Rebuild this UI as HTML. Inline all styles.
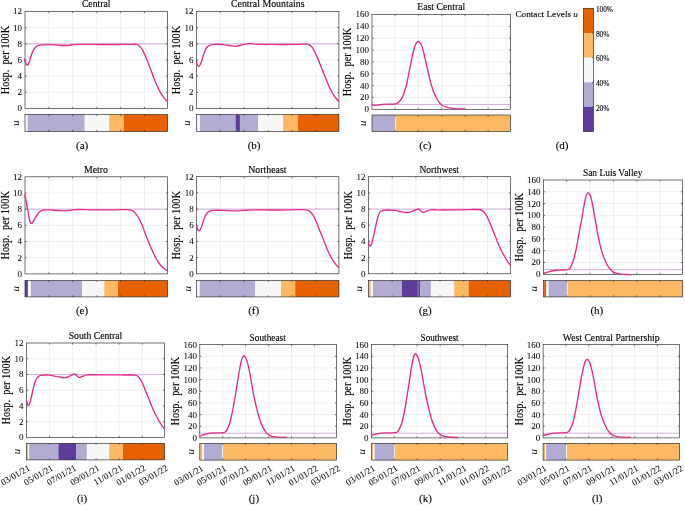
<!DOCTYPE html><html><head><meta charset="utf-8"><style>html,body{margin:0;padding:0;background:#fff;}svg{display:block;will-change:transform;}text{stroke:#000;stroke-width:0.12;fill:#000;}.tk text{stroke-width:0.05;}</style></head><body>
<svg width="685" height="505" viewBox="0 0 685 505" font-family='"Liberation Serif", serif'>
<rect width="685" height="505" fill="#fff"/>
<g stroke="#e6e6e6" stroke-width="0.6" fill="none">
<line x1="48.82" y1="11.5" x2="48.82" y2="108.5"/>
<line x1="72.63" y1="11.5" x2="72.63" y2="108.5"/>
<line x1="96.84" y1="11.5" x2="96.84" y2="108.5"/>
<line x1="120.65" y1="11.5" x2="120.65" y2="108.5"/>
<line x1="144.47" y1="11.5" x2="144.47" y2="108.5"/>
<line x1="25" y1="92.33" x2="167.5" y2="92.33"/>
<line x1="25" y1="76.17" x2="167.5" y2="76.17"/>
<line x1="25" y1="60" x2="167.5" y2="60"/>
<line x1="25" y1="43.83" x2="167.5" y2="43.83"/>
<line x1="25" y1="27.67" x2="167.5" y2="27.67"/>
</g>
<line x1="25" y1="43.83" x2="167.5" y2="43.83" stroke="#d3b0d9" stroke-width="1.0"/>
<g stroke="#262626" stroke-width="0.6">
<line x1="48.82" y1="108.5" x2="48.82" y2="106.9"/>
<line x1="48.82" y1="11.5" x2="48.82" y2="13.1"/>
<line x1="72.63" y1="108.5" x2="72.63" y2="106.9"/>
<line x1="72.63" y1="11.5" x2="72.63" y2="13.1"/>
<line x1="96.84" y1="108.5" x2="96.84" y2="106.9"/>
<line x1="96.84" y1="11.5" x2="96.84" y2="13.1"/>
<line x1="120.65" y1="108.5" x2="120.65" y2="106.9"/>
<line x1="120.65" y1="11.5" x2="120.65" y2="13.1"/>
<line x1="144.47" y1="108.5" x2="144.47" y2="106.9"/>
<line x1="144.47" y1="11.5" x2="144.47" y2="13.1"/>
<line x1="25" y1="92.33" x2="26.6" y2="92.33"/>
<line x1="167.5" y1="92.33" x2="165.9" y2="92.33"/>
<line x1="25" y1="76.17" x2="26.6" y2="76.17"/>
<line x1="167.5" y1="76.17" x2="165.9" y2="76.17"/>
<line x1="25" y1="60" x2="26.6" y2="60"/>
<line x1="167.5" y1="60" x2="165.9" y2="60"/>
<line x1="25" y1="43.83" x2="26.6" y2="43.83"/>
<line x1="167.5" y1="43.83" x2="165.9" y2="43.83"/>
<line x1="25" y1="27.67" x2="26.6" y2="27.67"/>
<line x1="167.5" y1="27.67" x2="165.9" y2="27.67"/>
</g>
<rect x="25" y="11.5" width="142.5" height="97" fill="none" stroke="#262626" stroke-width="0.65"/>
<path d="M24.6 59.5 C24.73 60 25.12 61.68 25.4 62.5 C25.68 63.32 25.97 63.98 26.3 64.4 C26.63 64.82 26.98 65.15 27.4 65 C27.82 64.85 28.28 64.7 28.8 63.5 C29.32 62.3 29.85 59.78 30.5 57.8 C31.15 55.82 31.9 53.35 32.7 51.6 C33.5 49.85 34.35 48.35 35.3 47.3 C36.25 46.25 37.15 45.72 38.4 45.3 C39.65 44.88 41.05 44.92 42.8 44.8 C44.55 44.68 46.57 44.55 48.9 44.6 C51.23 44.65 54.32 44.95 56.8 45.1 C59.28 45.25 61.77 45.47 63.8 45.5 C65.83 45.53 67.4 45.45 69 45.3 C70.6 45.15 71.57 44.75 73.4 44.6 C75.23 44.45 76.4 44.42 80 44.4 C83.6 44.38 90 44.43 95 44.45 C100 44.47 105 44.5 110 44.5 C115 44.5 121.5 44.48 125 44.45 C128.5 44.42 129.5 44.38 131 44.3 C132.5 44.22 132.97 43.92 134 43.95 C135.03 43.98 136.13 43.98 137.2 44.5 C138.27 45.02 139.43 46.03 140.4 47.1 C141.37 48.17 142.13 49.3 143 50.9 C143.87 52.5 144.73 54.65 145.6 56.7 C146.47 58.75 147.35 61.05 148.2 63.2 C149.05 65.35 149.85 67.35 150.7 69.6 C151.55 71.85 152.43 74.45 153.3 76.7 C154.17 78.95 155.03 81.07 155.9 83.1 C156.77 85.13 157.65 87.18 158.5 88.9 C159.35 90.62 160.15 92 161 93.4 C161.85 94.8 162.6 96.02 163.6 97.3 C164.6 98.58 166.43 100.47 167 101.1" fill="none" stroke="#e7298a" stroke-width="1.35" stroke-linejoin="round" stroke-linecap="round"/>
<g class="tk" font-size="9.0" text-anchor="end" fill="#111">
<text x="22.1" y="111.45">0</text>
<text x="22.1" y="95.28">2</text>
<text x="22.1" y="79.12">4</text>
<text x="22.1" y="62.95">6</text>
<text x="22.1" y="46.78">8</text>
<text x="22.1" y="30.62">10</text>
<text x="22.1" y="14.45">12</text>
</g>
<text transform="translate(8.6 60) rotate(-90)" font-size="11.5" text-anchor="middle" fill="#111" textLength="68.5" lengthAdjust="spacingAndGlyphs">Hosp.&#160;&#160;per&#160;100K</text>
<text x="96.2" y="6.9" font-size="9.3" text-anchor="middle" fill="#111" textLength="28.6" lengthAdjust="spacingAndGlyphs">Central</text>
<rect x="25" y="114.5" width="2.75" height="17" fill="#f7f7f7"/>
<rect x="27.7" y="114.5" width="57.05" height="17" fill="#b2abd2"/>
<rect x="84.7" y="114.5" width="24.55" height="17" fill="#f7f7f7"/>
<rect x="109.2" y="114.5" width="14.75" height="17" fill="#fdb863"/>
<rect x="123.9" y="114.5" width="43.65" height="17" fill="#e66101"/>
<g stroke="#262626" stroke-width="0.6">
<line x1="48.82" y1="131.5" x2="48.82" y2="129.9"/>
<line x1="48.82" y1="114.5" x2="48.82" y2="116.1"/>
<line x1="72.63" y1="131.5" x2="72.63" y2="129.9"/>
<line x1="72.63" y1="114.5" x2="72.63" y2="116.1"/>
<line x1="96.84" y1="131.5" x2="96.84" y2="129.9"/>
<line x1="96.84" y1="114.5" x2="96.84" y2="116.1"/>
<line x1="120.65" y1="131.5" x2="120.65" y2="129.9"/>
<line x1="120.65" y1="114.5" x2="120.65" y2="116.1"/>
<line x1="144.47" y1="131.5" x2="144.47" y2="129.9"/>
<line x1="144.47" y1="114.5" x2="144.47" y2="116.1"/>
</g>
<rect x="25" y="114.5" width="142.5" height="17" fill="none" stroke="#262626" stroke-width="0.65"/>
<text transform="translate(18.9 123) rotate(-90)" font-size="11" font-style="italic" text-anchor="middle" fill="#111" style="stroke-width:0">u</text>
<text x="82.15" y="148.9" font-size="11" text-anchor="middle" fill="#111">(a)</text>
<g stroke="#e6e6e6" stroke-width="0.6" fill="none">
<line x1="220.3" y1="11.5" x2="220.3" y2="108.5"/>
<line x1="244.1" y1="11.5" x2="244.1" y2="108.5"/>
<line x1="268.29" y1="11.5" x2="268.29" y2="108.5"/>
<line x1="292.08" y1="11.5" x2="292.08" y2="108.5"/>
<line x1="315.88" y1="11.5" x2="315.88" y2="108.5"/>
<line x1="196.5" y1="92.33" x2="338.9" y2="92.33"/>
<line x1="196.5" y1="76.17" x2="338.9" y2="76.17"/>
<line x1="196.5" y1="60" x2="338.9" y2="60"/>
<line x1="196.5" y1="43.83" x2="338.9" y2="43.83"/>
<line x1="196.5" y1="27.67" x2="338.9" y2="27.67"/>
</g>
<line x1="196.5" y1="43.83" x2="338.9" y2="43.83" stroke="#d3b0d9" stroke-width="1.0"/>
<g stroke="#262626" stroke-width="0.6">
<line x1="220.3" y1="108.5" x2="220.3" y2="106.9"/>
<line x1="220.3" y1="11.5" x2="220.3" y2="13.1"/>
<line x1="244.1" y1="108.5" x2="244.1" y2="106.9"/>
<line x1="244.1" y1="11.5" x2="244.1" y2="13.1"/>
<line x1="268.29" y1="108.5" x2="268.29" y2="106.9"/>
<line x1="268.29" y1="11.5" x2="268.29" y2="13.1"/>
<line x1="292.08" y1="108.5" x2="292.08" y2="106.9"/>
<line x1="292.08" y1="11.5" x2="292.08" y2="13.1"/>
<line x1="315.88" y1="108.5" x2="315.88" y2="106.9"/>
<line x1="315.88" y1="11.5" x2="315.88" y2="13.1"/>
<line x1="196.5" y1="92.33" x2="198.1" y2="92.33"/>
<line x1="338.9" y1="92.33" x2="337.3" y2="92.33"/>
<line x1="196.5" y1="76.17" x2="198.1" y2="76.17"/>
<line x1="338.9" y1="76.17" x2="337.3" y2="76.17"/>
<line x1="196.5" y1="60" x2="198.1" y2="60"/>
<line x1="338.9" y1="60" x2="337.3" y2="60"/>
<line x1="196.5" y1="43.83" x2="198.1" y2="43.83"/>
<line x1="338.9" y1="43.83" x2="337.3" y2="43.83"/>
<line x1="196.5" y1="27.67" x2="198.1" y2="27.67"/>
<line x1="338.9" y1="27.67" x2="337.3" y2="27.67"/>
</g>
<rect x="196.5" y="11.5" width="142.4" height="97" fill="none" stroke="#262626" stroke-width="0.65"/>
<path d="M196.6 62.4 C196.77 62.83 197.23 64.32 197.6 65 C197.97 65.68 198.27 66.73 198.8 66.5 C199.33 66.27 200.08 65.35 200.8 63.6 C201.52 61.85 202.23 58.53 203.1 56 C203.97 53.47 204.93 50.18 206 48.4 C207.07 46.62 207.93 45.98 209.5 45.3 C211.07 44.62 213.25 44.42 215.4 44.3 C217.55 44.18 220.07 44.4 222.4 44.6 C224.73 44.8 227.17 45.22 229.4 45.5 C231.63 45.78 233.67 46.4 235.8 46.3 C237.93 46.2 239.97 45.35 242.2 44.9 C244.43 44.45 246.87 43.7 249.2 43.6 C251.53 43.5 253.67 44.16 256.2 44.3 C258.73 44.44 261.77 44.43 264.4 44.45 C267.03 44.47 268.57 44.4 272 44.4 C275.43 44.4 280.33 44.46 285 44.45 C289.67 44.44 296.5 44.41 300 44.35 C303.5 44.29 304.47 44.01 306 44.1 C307.53 44.19 308.13 44.3 309.2 44.9 C310.27 45.5 311.43 46.48 312.4 47.7 C313.37 48.92 314.13 50.48 315 52.2 C315.87 53.92 316.73 55.95 317.6 58 C318.47 60.05 319.35 62.35 320.2 64.5 C321.05 66.65 321.85 68.77 322.7 70.9 C323.55 73.03 324.43 75.15 325.3 77.3 C326.17 79.45 327.03 81.77 327.9 83.8 C328.77 85.83 329.65 87.78 330.5 89.5 C331.35 91.22 332.15 92.73 333 94.1 C333.85 95.47 334.65 96.53 335.6 97.7 C336.55 98.87 338.18 100.53 338.7 101.1" fill="none" stroke="#e7298a" stroke-width="1.35" stroke-linejoin="round" stroke-linecap="round"/>
<g class="tk" font-size="9.0" text-anchor="end" fill="#111">
<text x="193.6" y="111.45">0</text>
<text x="193.6" y="95.28">2</text>
<text x="193.6" y="79.12">4</text>
<text x="193.6" y="62.95">6</text>
<text x="193.6" y="46.78">8</text>
<text x="193.6" y="30.62">10</text>
<text x="193.6" y="14.45">12</text>
</g>
<text transform="translate(180.1 60) rotate(-90)" font-size="11.5" text-anchor="middle" fill="#111" textLength="68.5" lengthAdjust="spacingAndGlyphs">Hosp.&#160;&#160;per&#160;100K</text>
<text x="267.75" y="6.8" font-size="9.3" text-anchor="middle" fill="#111" textLength="73.5" lengthAdjust="spacingAndGlyphs">Central Mountains</text>
<rect x="196.5" y="114.5" width="3.55" height="17" fill="#f7f7f7"/>
<rect x="200" y="114.5" width="35.65" height="17" fill="#b2abd2"/>
<rect x="235.6" y="114.5" width="4.35" height="17" fill="#5e3c99"/>
<rect x="239.9" y="114.5" width="18.25" height="17" fill="#b2abd2"/>
<rect x="258.1" y="114.5" width="25.05" height="17" fill="#f7f7f7"/>
<rect x="283.1" y="114.5" width="14.75" height="17" fill="#fdb863"/>
<rect x="297.8" y="114.5" width="41.15" height="17" fill="#e66101"/>
<g stroke="#262626" stroke-width="0.6">
<line x1="220.3" y1="131.5" x2="220.3" y2="129.9"/>
<line x1="220.3" y1="114.5" x2="220.3" y2="116.1"/>
<line x1="244.1" y1="131.5" x2="244.1" y2="129.9"/>
<line x1="244.1" y1="114.5" x2="244.1" y2="116.1"/>
<line x1="268.29" y1="131.5" x2="268.29" y2="129.9"/>
<line x1="268.29" y1="114.5" x2="268.29" y2="116.1"/>
<line x1="292.08" y1="131.5" x2="292.08" y2="129.9"/>
<line x1="292.08" y1="114.5" x2="292.08" y2="116.1"/>
<line x1="315.88" y1="131.5" x2="315.88" y2="129.9"/>
<line x1="315.88" y1="114.5" x2="315.88" y2="116.1"/>
</g>
<rect x="196.5" y="114.5" width="142.4" height="17" fill="none" stroke="#262626" stroke-width="0.65"/>
<text transform="translate(190.4 123) rotate(-90)" font-size="11" font-style="italic" text-anchor="middle" fill="#111" style="stroke-width:0">u</text>
<text x="254.05" y="148.9" font-size="11" text-anchor="middle" fill="#111">(b)</text>
<g stroke="#e6e6e6" stroke-width="0.6" fill="none">
<line x1="395.15" y1="14.5" x2="395.15" y2="109.3"/>
<line x1="418.29" y1="14.5" x2="418.29" y2="109.3"/>
<line x1="441.82" y1="14.5" x2="441.82" y2="109.3"/>
<line x1="464.97" y1="14.5" x2="464.97" y2="109.3"/>
<line x1="488.11" y1="14.5" x2="488.11" y2="109.3"/>
<line x1="372" y1="97.45" x2="510.5" y2="97.45"/>
<line x1="372" y1="85.6" x2="510.5" y2="85.6"/>
<line x1="372" y1="73.75" x2="510.5" y2="73.75"/>
<line x1="372" y1="61.9" x2="510.5" y2="61.9"/>
<line x1="372" y1="50.05" x2="510.5" y2="50.05"/>
<line x1="372" y1="38.2" x2="510.5" y2="38.2"/>
<line x1="372" y1="26.35" x2="510.5" y2="26.35"/>
</g>
<line x1="372" y1="104.56" x2="510.5" y2="104.56" stroke="#d3b0d9" stroke-width="1.0"/>
<g stroke="#262626" stroke-width="0.6">
<line x1="395.15" y1="109.3" x2="395.15" y2="107.7"/>
<line x1="395.15" y1="14.5" x2="395.15" y2="16.1"/>
<line x1="418.29" y1="109.3" x2="418.29" y2="107.7"/>
<line x1="418.29" y1="14.5" x2="418.29" y2="16.1"/>
<line x1="441.82" y1="109.3" x2="441.82" y2="107.7"/>
<line x1="441.82" y1="14.5" x2="441.82" y2="16.1"/>
<line x1="464.97" y1="109.3" x2="464.97" y2="107.7"/>
<line x1="464.97" y1="14.5" x2="464.97" y2="16.1"/>
<line x1="488.11" y1="109.3" x2="488.11" y2="107.7"/>
<line x1="488.11" y1="14.5" x2="488.11" y2="16.1"/>
<line x1="372" y1="97.45" x2="373.6" y2="97.45"/>
<line x1="510.5" y1="97.45" x2="508.9" y2="97.45"/>
<line x1="372" y1="85.6" x2="373.6" y2="85.6"/>
<line x1="510.5" y1="85.6" x2="508.9" y2="85.6"/>
<line x1="372" y1="73.75" x2="373.6" y2="73.75"/>
<line x1="510.5" y1="73.75" x2="508.9" y2="73.75"/>
<line x1="372" y1="61.9" x2="373.6" y2="61.9"/>
<line x1="510.5" y1="61.9" x2="508.9" y2="61.9"/>
<line x1="372" y1="50.05" x2="373.6" y2="50.05"/>
<line x1="510.5" y1="50.05" x2="508.9" y2="50.05"/>
<line x1="372" y1="38.2" x2="373.6" y2="38.2"/>
<line x1="510.5" y1="38.2" x2="508.9" y2="38.2"/>
<line x1="372" y1="26.35" x2="373.6" y2="26.35"/>
<line x1="510.5" y1="26.35" x2="508.9" y2="26.35"/>
</g>
<rect x="372" y="14.5" width="138.5" height="94.8" fill="none" stroke="#262626" stroke-width="0.65"/>
<path d="M372.1 104.6 C372.42 104.72 373.02 105.23 374 105.3 C374.98 105.37 376.68 105.15 378 105 C379.32 104.85 379.9 104.55 381.9 104.4 C383.9 104.25 387.73 104.18 390 104.1 C392.27 104.02 394.08 104.2 395.5 103.9 C396.92 103.6 397.47 103.18 398.5 102.3 C399.53 101.42 400.75 100.23 401.7 98.6 C402.65 96.97 403.38 94.85 404.2 92.5 C405.02 90.15 405.78 87.92 406.6 84.5 C407.42 81.08 408.27 76.17 409.1 72 C409.93 67.83 410.85 63.08 411.6 59.5 C412.35 55.92 412.95 52.98 413.6 50.5 C414.25 48.02 414.95 46 415.5 44.6 C416.05 43.2 416.47 42.62 416.9 42.1 C417.33 41.58 417.67 41.47 418.1 41.5 C418.53 41.53 418.93 41.68 419.5 42.3 C420.07 42.92 420.77 43.33 421.5 45.2 C422.23 47.07 423.08 50.28 423.9 53.5 C424.72 56.72 425.57 60.83 426.4 64.5 C427.23 68.17 428.07 72.05 428.9 75.5 C429.73 78.95 430.5 82.2 431.4 85.2 C432.3 88.2 433.32 91.12 434.3 93.5 C435.28 95.88 436.3 97.82 437.3 99.5 C438.3 101.18 439.3 102.52 440.3 103.6 C441.3 104.68 442.02 105.33 443.3 106 C444.58 106.67 446.35 107.2 448 107.6 C449.65 108 451.53 108.2 453.2 108.4 C454.87 108.6 456.2 108.7 458 108.8 C459.8 108.9 463 108.97 464 109" fill="none" stroke="#e7298a" stroke-width="1.35" stroke-linejoin="round" stroke-linecap="round"/>
<g class="tk" font-size="9.0" text-anchor="end" fill="#111">
<text x="369.1" y="112.25">0</text>
<text x="369.1" y="100.4">20</text>
<text x="369.1" y="88.55">40</text>
<text x="369.1" y="76.7">60</text>
<text x="369.1" y="64.85">80</text>
<text x="369.1" y="53">100</text>
<text x="369.1" y="41.15">120</text>
<text x="369.1" y="29.3">140</text>
<text x="369.1" y="17.45">160</text>
</g>
<text transform="translate(351.4 61.9) rotate(-90)" font-size="11.5" text-anchor="middle" fill="#111" textLength="68.5" lengthAdjust="spacingAndGlyphs">Hosp.&#160;&#160;per&#160;100K</text>
<text x="441.25" y="9.6" font-size="9.3" text-anchor="middle" fill="#111" textLength="48.1" lengthAdjust="spacingAndGlyphs">East Central</text>
<rect x="372" y="115" width="23.15" height="16.5" fill="#b2abd2"/>
<rect x="395.1" y="115" width="0.75" height="16.5" fill="#f7f7f7"/>
<rect x="395.8" y="115" width="114.75" height="16.5" fill="#fdb863"/>
<g stroke="#262626" stroke-width="0.6">
<line x1="395.15" y1="131.5" x2="395.15" y2="129.9"/>
<line x1="395.15" y1="115" x2="395.15" y2="116.6"/>
<line x1="418.29" y1="131.5" x2="418.29" y2="129.9"/>
<line x1="418.29" y1="115" x2="418.29" y2="116.6"/>
<line x1="441.82" y1="131.5" x2="441.82" y2="129.9"/>
<line x1="441.82" y1="115" x2="441.82" y2="116.6"/>
<line x1="464.97" y1="131.5" x2="464.97" y2="129.9"/>
<line x1="464.97" y1="115" x2="464.97" y2="116.6"/>
<line x1="488.11" y1="131.5" x2="488.11" y2="129.9"/>
<line x1="488.11" y1="115" x2="488.11" y2="116.6"/>
</g>
<rect x="372" y="115" width="138.5" height="16.5" fill="none" stroke="#262626" stroke-width="0.65"/>
<text transform="translate(365.9 123.25) rotate(-90)" font-size="11" font-style="italic" text-anchor="middle" fill="#111" style="stroke-width:0">u</text>
<text x="425.45" y="148.9" font-size="11" text-anchor="middle" fill="#111">(c)</text>
<g stroke="#e6e6e6" stroke-width="0.6" fill="none">
<line x1="48.82" y1="176.8" x2="48.82" y2="273.9"/>
<line x1="72.63" y1="176.8" x2="72.63" y2="273.9"/>
<line x1="96.84" y1="176.8" x2="96.84" y2="273.9"/>
<line x1="120.65" y1="176.8" x2="120.65" y2="273.9"/>
<line x1="144.47" y1="176.8" x2="144.47" y2="273.9"/>
<line x1="25" y1="257.72" x2="167.5" y2="257.72"/>
<line x1="25" y1="241.53" x2="167.5" y2="241.53"/>
<line x1="25" y1="225.35" x2="167.5" y2="225.35"/>
<line x1="25" y1="209.17" x2="167.5" y2="209.17"/>
<line x1="25" y1="192.98" x2="167.5" y2="192.98"/>
</g>
<line x1="25" y1="209.17" x2="167.5" y2="209.17" stroke="#d3b0d9" stroke-width="1.0"/>
<g stroke="#262626" stroke-width="0.6">
<line x1="48.82" y1="273.9" x2="48.82" y2="272.3"/>
<line x1="48.82" y1="176.8" x2="48.82" y2="178.4"/>
<line x1="72.63" y1="273.9" x2="72.63" y2="272.3"/>
<line x1="72.63" y1="176.8" x2="72.63" y2="178.4"/>
<line x1="96.84" y1="273.9" x2="96.84" y2="272.3"/>
<line x1="96.84" y1="176.8" x2="96.84" y2="178.4"/>
<line x1="120.65" y1="273.9" x2="120.65" y2="272.3"/>
<line x1="120.65" y1="176.8" x2="120.65" y2="178.4"/>
<line x1="144.47" y1="273.9" x2="144.47" y2="272.3"/>
<line x1="144.47" y1="176.8" x2="144.47" y2="178.4"/>
<line x1="25" y1="257.72" x2="26.6" y2="257.72"/>
<line x1="167.5" y1="257.72" x2="165.9" y2="257.72"/>
<line x1="25" y1="241.53" x2="26.6" y2="241.53"/>
<line x1="167.5" y1="241.53" x2="165.9" y2="241.53"/>
<line x1="25" y1="225.35" x2="26.6" y2="225.35"/>
<line x1="167.5" y1="225.35" x2="165.9" y2="225.35"/>
<line x1="25" y1="209.17" x2="26.6" y2="209.17"/>
<line x1="167.5" y1="209.17" x2="165.9" y2="209.17"/>
<line x1="25" y1="192.98" x2="26.6" y2="192.98"/>
<line x1="167.5" y1="192.98" x2="165.9" y2="192.98"/>
</g>
<rect x="25" y="176.8" width="142.5" height="97.1" fill="none" stroke="#262626" stroke-width="0.65"/>
<path d="M24.8 195 C25.07 196.25 25.83 199.5 26.4 202.5 C26.97 205.5 27.62 209.88 28.2 213 C28.78 216.12 29.37 219.48 29.9 221.2 C30.43 222.92 30.82 223.3 31.4 223.3 C31.98 223.3 32.57 222.42 33.4 221.2 C34.23 219.98 35.32 217.6 36.4 216 C37.48 214.4 38.73 212.58 39.9 211.6 C41.07 210.62 41.65 210.38 43.4 210.1 C45.15 209.82 48.07 209.83 50.4 209.9 C52.73 209.97 55.07 210.33 57.4 210.5 C59.73 210.67 62.07 210.97 64.4 210.9 C66.73 210.83 69.07 210.33 71.4 210.1 C73.73 209.87 75.28 209.55 78.4 209.5 C81.52 209.45 86.5 209.73 90.1 209.8 C93.7 209.87 95.85 209.9 100 209.9 C104.15 209.9 110.33 209.85 115 209.8 C119.67 209.75 125.25 209.52 128 209.6 C130.75 209.68 130.35 209.8 131.5 210.3 C132.65 210.8 133.75 211.4 134.9 212.6 C136.05 213.8 137.23 215.53 138.4 217.5 C139.57 219.47 140.87 221.98 141.9 224.4 C142.93 226.82 143.68 229.57 144.6 232 C145.52 234.43 146.47 236.68 147.4 239 C148.33 241.32 149.27 243.72 150.2 245.9 C151.13 248.08 152.08 250.13 153 252.1 C153.92 254.07 154.78 255.97 155.7 257.7 C156.62 259.43 157.45 261 158.5 262.5 C159.55 264 160.85 265.53 162 266.7 C163.15 267.87 164.52 268.88 165.4 269.5 C166.28 270.12 166.98 270.25 167.3 270.4" fill="none" stroke="#e7298a" stroke-width="1.35" stroke-linejoin="round" stroke-linecap="round"/>
<g class="tk" font-size="9.0" text-anchor="end" fill="#111">
<text x="22.1" y="276.85">0</text>
<text x="22.1" y="260.67">2</text>
<text x="22.1" y="244.48">4</text>
<text x="22.1" y="228.3">6</text>
<text x="22.1" y="212.12">8</text>
<text x="22.1" y="195.93">10</text>
<text x="22.1" y="179.75">12</text>
</g>
<text transform="translate(8.6 225.35) rotate(-90)" font-size="11.5" text-anchor="middle" fill="#111" textLength="68.5" lengthAdjust="spacingAndGlyphs">Hosp.&#160;&#160;per&#160;100K</text>
<text x="96.05" y="172.5" font-size="9.3" text-anchor="middle" fill="#111" textLength="23.9" lengthAdjust="spacingAndGlyphs">Metro</text>
<rect x="25" y="280.5" width="2.95" height="16.4" fill="#5e3c99"/>
<rect x="27.9" y="280.5" width="3.05" height="16.4" fill="#f7f7f7"/>
<rect x="30.9" y="280.5" width="51.15" height="16.4" fill="#b2abd2"/>
<rect x="82" y="280.5" width="22.35" height="16.4" fill="#f7f7f7"/>
<rect x="104.3" y="280.5" width="13.75" height="16.4" fill="#fdb863"/>
<rect x="118" y="280.5" width="49.55" height="16.4" fill="#e66101"/>
<g stroke="#262626" stroke-width="0.6">
<line x1="48.82" y1="296.9" x2="48.82" y2="295.3"/>
<line x1="48.82" y1="280.5" x2="48.82" y2="282.1"/>
<line x1="72.63" y1="296.9" x2="72.63" y2="295.3"/>
<line x1="72.63" y1="280.5" x2="72.63" y2="282.1"/>
<line x1="96.84" y1="296.9" x2="96.84" y2="295.3"/>
<line x1="96.84" y1="280.5" x2="96.84" y2="282.1"/>
<line x1="120.65" y1="296.9" x2="120.65" y2="295.3"/>
<line x1="120.65" y1="280.5" x2="120.65" y2="282.1"/>
<line x1="144.47" y1="296.9" x2="144.47" y2="295.3"/>
<line x1="144.47" y1="280.5" x2="144.47" y2="282.1"/>
</g>
<rect x="25" y="280.5" width="142.5" height="16.4" fill="none" stroke="#262626" stroke-width="0.65"/>
<text transform="translate(18.9 288.7) rotate(-90)" font-size="11" font-style="italic" text-anchor="middle" fill="#111" style="stroke-width:0">u</text>
<text x="82.05" y="314.3" font-size="11" text-anchor="middle" fill="#111">(e)</text>
<g stroke="#e6e6e6" stroke-width="0.6" fill="none">
<line x1="220.38" y1="176.7" x2="220.38" y2="273.8"/>
<line x1="244.16" y1="176.7" x2="244.16" y2="273.8"/>
<line x1="268.33" y1="176.7" x2="268.33" y2="273.8"/>
<line x1="292.12" y1="176.7" x2="292.12" y2="273.8"/>
<line x1="315.9" y1="176.7" x2="315.9" y2="273.8"/>
<line x1="196.6" y1="257.62" x2="338.9" y2="257.62"/>
<line x1="196.6" y1="241.43" x2="338.9" y2="241.43"/>
<line x1="196.6" y1="225.25" x2="338.9" y2="225.25"/>
<line x1="196.6" y1="209.07" x2="338.9" y2="209.07"/>
<line x1="196.6" y1="192.88" x2="338.9" y2="192.88"/>
</g>
<line x1="196.6" y1="209.07" x2="338.9" y2="209.07" stroke="#d3b0d9" stroke-width="1.0"/>
<g stroke="#262626" stroke-width="0.6">
<line x1="220.38" y1="273.8" x2="220.38" y2="272.2"/>
<line x1="220.38" y1="176.7" x2="220.38" y2="178.3"/>
<line x1="244.16" y1="273.8" x2="244.16" y2="272.2"/>
<line x1="244.16" y1="176.7" x2="244.16" y2="178.3"/>
<line x1="268.33" y1="273.8" x2="268.33" y2="272.2"/>
<line x1="268.33" y1="176.7" x2="268.33" y2="178.3"/>
<line x1="292.12" y1="273.8" x2="292.12" y2="272.2"/>
<line x1="292.12" y1="176.7" x2="292.12" y2="178.3"/>
<line x1="315.9" y1="273.8" x2="315.9" y2="272.2"/>
<line x1="315.9" y1="176.7" x2="315.9" y2="178.3"/>
<line x1="196.6" y1="257.62" x2="198.2" y2="257.62"/>
<line x1="338.9" y1="257.62" x2="337.3" y2="257.62"/>
<line x1="196.6" y1="241.43" x2="198.2" y2="241.43"/>
<line x1="338.9" y1="241.43" x2="337.3" y2="241.43"/>
<line x1="196.6" y1="225.25" x2="198.2" y2="225.25"/>
<line x1="338.9" y1="225.25" x2="337.3" y2="225.25"/>
<line x1="196.6" y1="209.07" x2="198.2" y2="209.07"/>
<line x1="338.9" y1="209.07" x2="337.3" y2="209.07"/>
<line x1="196.6" y1="192.88" x2="198.2" y2="192.88"/>
<line x1="338.9" y1="192.88" x2="337.3" y2="192.88"/>
</g>
<rect x="196.6" y="176.7" width="142.3" height="97.1" fill="none" stroke="#262626" stroke-width="0.65"/>
<path d="M196.6 225.9 C196.8 226.52 197.4 228.77 197.8 229.6 C198.2 230.43 198.5 231.07 199 230.9 C199.5 230.73 200.12 230.15 200.8 228.6 C201.48 227.05 202.23 223.93 203.1 221.6 C203.97 219.27 204.93 216.35 206 214.6 C207.07 212.85 208.13 211.82 209.5 211.1 C210.87 210.38 212.05 210.43 214.2 210.3 C216.35 210.17 218.9 210.2 222.4 210.3 C225.9 210.4 231.7 210.88 235.2 210.9 C238.7 210.92 240.48 210.57 243.4 210.4 C246.32 210.23 247.93 209.97 252.7 209.9 C257.47 209.83 265.78 210.02 272 210 C278.22 209.98 285.33 209.87 290 209.8 C294.67 209.73 297.18 209.58 300 209.6 C302.82 209.62 305.17 209.52 306.9 209.9 C308.63 210.28 309.35 210.98 310.4 211.9 C311.45 212.82 312.28 213.9 313.2 215.4 C314.12 216.9 314.98 218.82 315.9 220.9 C316.82 222.98 317.77 225.58 318.7 227.9 C319.63 230.22 320.57 232.5 321.5 234.8 C322.43 237.1 323.38 239.38 324.3 241.7 C325.22 244.02 326.08 246.5 327 248.7 C327.92 250.9 328.87 253.05 329.8 254.9 C330.73 256.75 331.68 258.3 332.6 259.8 C333.52 261.3 334.3 262.63 335.3 263.9 C336.3 265.17 338.05 266.82 338.6 267.4" fill="none" stroke="#e7298a" stroke-width="1.35" stroke-linejoin="round" stroke-linecap="round"/>
<g class="tk" font-size="9.0" text-anchor="end" fill="#111">
<text x="193.7" y="276.75">0</text>
<text x="193.7" y="260.57">2</text>
<text x="193.7" y="244.38">4</text>
<text x="193.7" y="228.2">6</text>
<text x="193.7" y="212.02">8</text>
<text x="193.7" y="195.83">10</text>
<text x="193.7" y="179.65">12</text>
</g>
<text transform="translate(180.2 225.25) rotate(-90)" font-size="11.5" text-anchor="middle" fill="#111" textLength="68.5" lengthAdjust="spacingAndGlyphs">Hosp.&#160;&#160;per&#160;100K</text>
<text x="267.4" y="172.5" font-size="9.3" text-anchor="middle" fill="#111" textLength="38.4" lengthAdjust="spacingAndGlyphs">Northeast</text>
<rect x="196.6" y="280.5" width="3.2" height="16.4" fill="#f7f7f7"/>
<rect x="199.75" y="280.5" width="55.4" height="16.4" fill="#b2abd2"/>
<rect x="255.1" y="280.5" width="25.95" height="16.4" fill="#f7f7f7"/>
<rect x="281" y="280.5" width="14.25" height="16.4" fill="#fdb863"/>
<rect x="295.2" y="280.5" width="43.75" height="16.4" fill="#e66101"/>
<g stroke="#262626" stroke-width="0.6">
<line x1="220.38" y1="296.9" x2="220.38" y2="295.3"/>
<line x1="220.38" y1="280.5" x2="220.38" y2="282.1"/>
<line x1="244.16" y1="296.9" x2="244.16" y2="295.3"/>
<line x1="244.16" y1="280.5" x2="244.16" y2="282.1"/>
<line x1="268.33" y1="296.9" x2="268.33" y2="295.3"/>
<line x1="268.33" y1="280.5" x2="268.33" y2="282.1"/>
<line x1="292.12" y1="296.9" x2="292.12" y2="295.3"/>
<line x1="292.12" y1="280.5" x2="292.12" y2="282.1"/>
<line x1="315.9" y1="296.9" x2="315.9" y2="295.3"/>
<line x1="315.9" y1="280.5" x2="315.9" y2="282.1"/>
</g>
<rect x="196.6" y="280.5" width="142.3" height="16.4" fill="none" stroke="#262626" stroke-width="0.65"/>
<text transform="translate(190.5 288.7) rotate(-90)" font-size="11" font-style="italic" text-anchor="middle" fill="#111" style="stroke-width:0">u</text>
<text x="253.7" y="314.3" font-size="11" text-anchor="middle" fill="#111">(f)</text>
<g stroke="#e6e6e6" stroke-width="0.6" fill="none">
<line x1="392.15" y1="176.7" x2="392.15" y2="273.8"/>
<line x1="415.9" y1="176.7" x2="415.9" y2="273.8"/>
<line x1="440.03" y1="176.7" x2="440.03" y2="273.8"/>
<line x1="463.78" y1="176.7" x2="463.78" y2="273.8"/>
<line x1="487.53" y1="176.7" x2="487.53" y2="273.8"/>
<line x1="368.4" y1="257.62" x2="510.5" y2="257.62"/>
<line x1="368.4" y1="241.43" x2="510.5" y2="241.43"/>
<line x1="368.4" y1="225.25" x2="510.5" y2="225.25"/>
<line x1="368.4" y1="209.07" x2="510.5" y2="209.07"/>
<line x1="368.4" y1="192.88" x2="510.5" y2="192.88"/>
</g>
<line x1="368.4" y1="209.07" x2="510.5" y2="209.07" stroke="#d3b0d9" stroke-width="1.0"/>
<g stroke="#262626" stroke-width="0.6">
<line x1="392.15" y1="273.8" x2="392.15" y2="272.2"/>
<line x1="392.15" y1="176.7" x2="392.15" y2="178.3"/>
<line x1="415.9" y1="273.8" x2="415.9" y2="272.2"/>
<line x1="415.9" y1="176.7" x2="415.9" y2="178.3"/>
<line x1="440.03" y1="273.8" x2="440.03" y2="272.2"/>
<line x1="440.03" y1="176.7" x2="440.03" y2="178.3"/>
<line x1="463.78" y1="273.8" x2="463.78" y2="272.2"/>
<line x1="463.78" y1="176.7" x2="463.78" y2="178.3"/>
<line x1="487.53" y1="273.8" x2="487.53" y2="272.2"/>
<line x1="487.53" y1="176.7" x2="487.53" y2="178.3"/>
<line x1="368.4" y1="257.62" x2="370" y2="257.62"/>
<line x1="510.5" y1="257.62" x2="508.9" y2="257.62"/>
<line x1="368.4" y1="241.43" x2="370" y2="241.43"/>
<line x1="510.5" y1="241.43" x2="508.9" y2="241.43"/>
<line x1="368.4" y1="225.25" x2="370" y2="225.25"/>
<line x1="510.5" y1="225.25" x2="508.9" y2="225.25"/>
<line x1="368.4" y1="209.07" x2="370" y2="209.07"/>
<line x1="510.5" y1="209.07" x2="508.9" y2="209.07"/>
<line x1="368.4" y1="192.88" x2="370" y2="192.88"/>
<line x1="510.5" y1="192.88" x2="508.9" y2="192.88"/>
</g>
<rect x="368.4" y="176.7" width="142.1" height="97.1" fill="none" stroke="#262626" stroke-width="0.65"/>
<path d="M368.4 242.8 C368.52 243.2 368.78 244.65 369.1 245.2 C369.42 245.75 369.92 246.2 370.3 246.1 C370.68 246 371 245.63 371.4 244.6 C371.8 243.57 372.23 241.78 372.7 239.9 C373.17 238.02 373.7 235.58 374.2 233.3 C374.7 231.02 375.17 228.68 375.7 226.2 C376.23 223.72 376.72 220.68 377.4 218.4 C378.08 216.12 378.92 213.83 379.8 212.5 C380.68 211.17 381.43 210.82 382.7 210.4 C383.97 209.98 385.27 210 387.4 210 C389.53 210 393.17 210.08 395.5 210.4 C397.83 210.72 399.45 211.55 401.4 211.9 C403.35 212.25 405.45 212.58 407.2 212.5 C408.95 212.42 410.43 211.88 411.9 211.4 C413.37 210.92 414.87 210 416 209.6 C417.13 209.2 417.93 208.8 418.7 209 C419.47 209.2 419.88 210.22 420.6 210.8 C421.32 211.38 422.12 212.4 423 212.5 C423.88 212.6 424.63 211.85 425.9 211.4 C427.17 210.95 428.85 210.07 430.6 209.8 C432.35 209.53 434.17 209.77 436.4 209.8 C438.63 209.83 440.07 210 444 210 C447.93 210 455.67 209.87 460 209.8 C464.33 209.73 467 209.65 470 209.6 C473 209.55 476.02 209.37 478 209.5 C479.98 209.63 480.72 209.75 481.9 210.4 C483.08 211.05 484.13 212.15 485.1 213.4 C486.07 214.65 486.85 216.18 487.7 217.9 C488.55 219.62 489.35 221.67 490.2 223.7 C491.05 225.73 491.93 227.97 492.8 230.1 C493.67 232.23 494.55 234.35 495.4 236.5 C496.25 238.65 497.05 240.95 497.9 243 C498.75 245.05 499.63 246.98 500.5 248.8 C501.37 250.62 502.23 252.3 503.1 253.9 C503.97 255.5 504.85 257 505.7 258.4 C506.55 259.8 507.43 261.22 508.2 262.3 C508.97 263.38 509.95 264.47 510.3 264.9" fill="none" stroke="#e7298a" stroke-width="1.35" stroke-linejoin="round" stroke-linecap="round"/>
<g class="tk" font-size="9.0" text-anchor="end" fill="#111">
<text x="365.5" y="276.75">0</text>
<text x="365.5" y="260.57">2</text>
<text x="365.5" y="244.38">4</text>
<text x="365.5" y="228.2">6</text>
<text x="365.5" y="212.02">8</text>
<text x="365.5" y="195.83">10</text>
<text x="365.5" y="179.65">12</text>
</g>
<text transform="translate(352 225.25) rotate(-90)" font-size="11.5" text-anchor="middle" fill="#111" textLength="68.5" lengthAdjust="spacingAndGlyphs">Hosp.&#160;&#160;per&#160;100K</text>
<text x="439.2" y="172.5" font-size="9.3" text-anchor="middle" fill="#111" textLength="39.6" lengthAdjust="spacingAndGlyphs">Northwest</text>
<rect x="368.4" y="280.5" width="2.45" height="16.4" fill="#fdb863"/>
<rect x="370.8" y="280.5" width="2.25" height="16.4" fill="#f7f7f7"/>
<rect x="373" y="280.5" width="28.85" height="16.4" fill="#b2abd2"/>
<rect x="401.8" y="280.5" width="15.35" height="16.4" fill="#5e3c99"/>
<rect x="417.1" y="280.5" width="1.55" height="16.4" fill="#6a4fa3"/>
<rect x="418.6" y="280.5" width="1.65" height="16.4" fill="#5e3c99"/>
<rect x="420.2" y="280.5" width="10.75" height="16.4" fill="#b2abd2"/>
<rect x="430.9" y="280.5" width="23.35" height="16.4" fill="#f7f7f7"/>
<rect x="454.2" y="280.5" width="14.45" height="16.4" fill="#fdb863"/>
<rect x="468.6" y="280.5" width="41.95" height="16.4" fill="#e66101"/>
<g stroke="#262626" stroke-width="0.6">
<line x1="392.15" y1="296.9" x2="392.15" y2="295.3"/>
<line x1="392.15" y1="280.5" x2="392.15" y2="282.1"/>
<line x1="415.9" y1="296.9" x2="415.9" y2="295.3"/>
<line x1="415.9" y1="280.5" x2="415.9" y2="282.1"/>
<line x1="440.03" y1="296.9" x2="440.03" y2="295.3"/>
<line x1="440.03" y1="280.5" x2="440.03" y2="282.1"/>
<line x1="463.78" y1="296.9" x2="463.78" y2="295.3"/>
<line x1="463.78" y1="280.5" x2="463.78" y2="282.1"/>
<line x1="487.53" y1="296.9" x2="487.53" y2="295.3"/>
<line x1="487.53" y1="280.5" x2="487.53" y2="282.1"/>
</g>
<rect x="368.4" y="280.5" width="142.1" height="16.4" fill="none" stroke="#262626" stroke-width="0.65"/>
<text transform="translate(362.3 288.7) rotate(-90)" font-size="11" font-style="italic" text-anchor="middle" fill="#111" style="stroke-width:0">u</text>
<text x="425.35" y="314.3" font-size="11" text-anchor="middle" fill="#111">(g)</text>
<g stroke="#e6e6e6" stroke-width="0.6" fill="none">
<line x1="566.73" y1="180" x2="566.73" y2="274.3"/>
<line x1="589.96" y1="180" x2="589.96" y2="274.3"/>
<line x1="613.57" y1="180" x2="613.57" y2="274.3"/>
<line x1="636.8" y1="180" x2="636.8" y2="274.3"/>
<line x1="660.03" y1="180" x2="660.03" y2="274.3"/>
<line x1="543.5" y1="262.51" x2="682.5" y2="262.51"/>
<line x1="543.5" y1="250.73" x2="682.5" y2="250.73"/>
<line x1="543.5" y1="238.94" x2="682.5" y2="238.94"/>
<line x1="543.5" y1="227.15" x2="682.5" y2="227.15"/>
<line x1="543.5" y1="215.36" x2="682.5" y2="215.36"/>
<line x1="543.5" y1="203.57" x2="682.5" y2="203.57"/>
<line x1="543.5" y1="191.79" x2="682.5" y2="191.79"/>
</g>
<line x1="543.5" y1="269.59" x2="682.5" y2="269.59" stroke="#d3b0d9" stroke-width="1.0"/>
<g stroke="#262626" stroke-width="0.6">
<line x1="566.73" y1="274.3" x2="566.73" y2="272.7"/>
<line x1="566.73" y1="180" x2="566.73" y2="181.6"/>
<line x1="589.96" y1="274.3" x2="589.96" y2="272.7"/>
<line x1="589.96" y1="180" x2="589.96" y2="181.6"/>
<line x1="613.57" y1="274.3" x2="613.57" y2="272.7"/>
<line x1="613.57" y1="180" x2="613.57" y2="181.6"/>
<line x1="636.8" y1="274.3" x2="636.8" y2="272.7"/>
<line x1="636.8" y1="180" x2="636.8" y2="181.6"/>
<line x1="660.03" y1="274.3" x2="660.03" y2="272.7"/>
<line x1="660.03" y1="180" x2="660.03" y2="181.6"/>
<line x1="543.5" y1="262.51" x2="545.1" y2="262.51"/>
<line x1="682.5" y1="262.51" x2="680.9" y2="262.51"/>
<line x1="543.5" y1="250.73" x2="545.1" y2="250.73"/>
<line x1="682.5" y1="250.73" x2="680.9" y2="250.73"/>
<line x1="543.5" y1="238.94" x2="545.1" y2="238.94"/>
<line x1="682.5" y1="238.94" x2="680.9" y2="238.94"/>
<line x1="543.5" y1="227.15" x2="545.1" y2="227.15"/>
<line x1="682.5" y1="227.15" x2="680.9" y2="227.15"/>
<line x1="543.5" y1="215.36" x2="545.1" y2="215.36"/>
<line x1="682.5" y1="215.36" x2="680.9" y2="215.36"/>
<line x1="543.5" y1="203.57" x2="545.1" y2="203.57"/>
<line x1="682.5" y1="203.57" x2="680.9" y2="203.57"/>
<line x1="543.5" y1="191.79" x2="545.1" y2="191.79"/>
<line x1="682.5" y1="191.79" x2="680.9" y2="191.79"/>
</g>
<rect x="543.5" y="180" width="139" height="94.3" fill="none" stroke="#262626" stroke-width="0.65"/>
<path d="M543.5 273.4 C544.23 273.18 546.17 272.58 547.9 272.1 C549.63 271.62 551.92 270.83 553.9 270.5 C555.88 270.17 557.7 270.22 559.8 270.1 C561.9 269.98 565.02 269.98 566.5 269.8 C567.98 269.62 568 269.45 568.7 269 C569.4 268.55 569.87 268.73 570.7 267.1 C571.53 265.47 572.87 261.8 573.7 259.2 C574.53 256.6 575.05 254.47 575.7 251.5 C576.35 248.53 576.95 244.9 577.6 241.4 C578.25 237.9 578.93 234.13 579.6 230.5 C580.27 226.87 580.95 223.27 581.6 219.6 C582.25 215.93 582.92 211.77 583.5 208.5 C584.08 205.23 584.58 202.28 585.1 200 C585.62 197.72 586.1 196.03 586.6 194.8 C587.1 193.57 587.6 192.7 588.1 192.6 C588.6 192.5 589.1 193.3 589.6 194.2 C590.1 195.1 590.57 196.03 591.1 198 C591.63 199.97 592.23 203.07 592.8 206 C593.37 208.93 593.88 212.1 594.5 215.6 C595.12 219.1 595.85 223.37 596.5 227 C597.15 230.63 597.75 234.2 598.4 237.4 C599.05 240.6 599.73 243.55 600.4 246.2 C601.07 248.85 601.67 251.03 602.4 253.3 C603.13 255.57 603.98 257.83 604.8 259.8 C605.62 261.77 606.38 263.53 607.3 265.1 C608.22 266.67 609.3 268.03 610.3 269.2 C611.3 270.37 612.18 271.4 613.3 272.1 C614.42 272.8 615.68 273.07 617 273.4 C618.32 273.73 619.7 273.92 621.2 274.1 C622.7 274.28 624.3 274.42 626 274.5 C627.7 274.58 630.5 274.58 631.4 274.6" fill="none" stroke="#e7298a" stroke-width="1.35" stroke-linejoin="round" stroke-linecap="round"/>
<g class="tk" font-size="9.0" text-anchor="end" fill="#111">
<text x="540.6" y="277.25">0</text>
<text x="540.6" y="265.46">20</text>
<text x="540.6" y="253.68">40</text>
<text x="540.6" y="241.89">60</text>
<text x="540.6" y="230.1">80</text>
<text x="540.6" y="218.31">100</text>
<text x="540.6" y="206.52">120</text>
<text x="540.6" y="194.74">140</text>
<text x="540.6" y="182.95">160</text>
</g>
<text transform="translate(522.9 227.15) rotate(-90)" font-size="11.5" text-anchor="middle" fill="#111" textLength="68.5" lengthAdjust="spacingAndGlyphs">Hosp.&#160;&#160;per&#160;100K</text>
<text x="612.7" y="175.7" font-size="9.3" text-anchor="middle" fill="#111" textLength="59.6" lengthAdjust="spacingAndGlyphs">San Luis Valley</text>
<rect x="543.5" y="280.6" width="0.65" height="16.3" fill="#fdb863"/>
<rect x="544.1" y="280.6" width="2.25" height="16.3" fill="#e66101"/>
<rect x="546.3" y="280.6" width="2.45" height="16.3" fill="#f7f7f7"/>
<rect x="548.7" y="280.6" width="18.25" height="16.3" fill="#b2abd2"/>
<rect x="566.9" y="280.6" width="0.75" height="16.3" fill="#f7f7f7"/>
<rect x="567.6" y="280.6" width="114.95" height="16.3" fill="#fdb863"/>
<g stroke="#262626" stroke-width="0.6">
<line x1="566.73" y1="296.9" x2="566.73" y2="295.3"/>
<line x1="566.73" y1="280.6" x2="566.73" y2="282.2"/>
<line x1="589.96" y1="296.9" x2="589.96" y2="295.3"/>
<line x1="589.96" y1="280.6" x2="589.96" y2="282.2"/>
<line x1="613.57" y1="296.9" x2="613.57" y2="295.3"/>
<line x1="613.57" y1="280.6" x2="613.57" y2="282.2"/>
<line x1="636.8" y1="296.9" x2="636.8" y2="295.3"/>
<line x1="636.8" y1="280.6" x2="636.8" y2="282.2"/>
<line x1="660.03" y1="296.9" x2="660.03" y2="295.3"/>
<line x1="660.03" y1="280.6" x2="660.03" y2="282.2"/>
</g>
<rect x="543.5" y="280.6" width="139" height="16.3" fill="none" stroke="#262626" stroke-width="0.65"/>
<text transform="translate(537.4 288.75) rotate(-90)" font-size="11" font-style="italic" text-anchor="middle" fill="#111" style="stroke-width:0">u</text>
<text x="596.85" y="314.3" font-size="11" text-anchor="middle" fill="#111">(h)</text>
<g stroke="#e6e6e6" stroke-width="0.6" fill="none">
<line x1="49.56" y1="343" x2="49.56" y2="437.4"/>
<line x1="72.63" y1="343" x2="72.63" y2="437.4"/>
<line x1="96.07" y1="343" x2="96.07" y2="437.4"/>
<line x1="119.13" y1="343" x2="119.13" y2="437.4"/>
<line x1="142.19" y1="343" x2="142.19" y2="437.4"/>
<line x1="26.5" y1="421.67" x2="164.5" y2="421.67"/>
<line x1="26.5" y1="405.93" x2="164.5" y2="405.93"/>
<line x1="26.5" y1="390.2" x2="164.5" y2="390.2"/>
<line x1="26.5" y1="374.47" x2="164.5" y2="374.47"/>
<line x1="26.5" y1="358.73" x2="164.5" y2="358.73"/>
</g>
<line x1="26.5" y1="374.47" x2="164.5" y2="374.47" stroke="#d3b0d9" stroke-width="1.0"/>
<g stroke="#262626" stroke-width="0.6">
<line x1="49.56" y1="437.4" x2="49.56" y2="435.8"/>
<line x1="49.56" y1="343" x2="49.56" y2="344.6"/>
<line x1="72.63" y1="437.4" x2="72.63" y2="435.8"/>
<line x1="72.63" y1="343" x2="72.63" y2="344.6"/>
<line x1="96.07" y1="437.4" x2="96.07" y2="435.8"/>
<line x1="96.07" y1="343" x2="96.07" y2="344.6"/>
<line x1="119.13" y1="437.4" x2="119.13" y2="435.8"/>
<line x1="119.13" y1="343" x2="119.13" y2="344.6"/>
<line x1="142.19" y1="437.4" x2="142.19" y2="435.8"/>
<line x1="142.19" y1="343" x2="142.19" y2="344.6"/>
<line x1="26.5" y1="421.67" x2="28.1" y2="421.67"/>
<line x1="164.5" y1="421.67" x2="162.9" y2="421.67"/>
<line x1="26.5" y1="405.93" x2="28.1" y2="405.93"/>
<line x1="164.5" y1="405.93" x2="162.9" y2="405.93"/>
<line x1="26.5" y1="390.2" x2="28.1" y2="390.2"/>
<line x1="164.5" y1="390.2" x2="162.9" y2="390.2"/>
<line x1="26.5" y1="374.47" x2="28.1" y2="374.47"/>
<line x1="164.5" y1="374.47" x2="162.9" y2="374.47"/>
<line x1="26.5" y1="358.73" x2="28.1" y2="358.73"/>
<line x1="164.5" y1="358.73" x2="162.9" y2="358.73"/>
</g>
<rect x="26.5" y="343" width="138" height="94.4" fill="none" stroke="#262626" stroke-width="0.65"/>
<path d="M26.5 400.9 C26.72 401.52 27.38 403.92 27.8 404.6 C28.22 405.28 28.5 405.82 29 405 C29.5 404.18 30.12 402.33 30.8 399.7 C31.48 397.07 32.33 392.32 33.1 389.2 C33.87 386.08 34.52 383.13 35.4 381 C36.28 378.87 37.32 377.37 38.4 376.4 C39.48 375.43 40.15 375.4 41.9 375.2 C43.65 375 46.57 375 48.9 375.2 C51.23 375.4 53.38 375.97 55.9 376.4 C58.42 376.83 61.87 377.75 64 377.8 C66.13 377.85 67.23 377.23 68.7 376.7 C70.17 376.17 71.73 375.05 72.8 374.6 C73.87 374.15 74.38 373.73 75.1 374 C75.82 374.27 76.42 375.6 77.1 376.2 C77.78 376.8 78.27 377.57 79.2 377.6 C80.13 377.63 81.33 376.87 82.7 376.4 C84.07 375.93 84.18 375.05 87.4 374.8 C90.62 374.55 96.57 374.88 102 374.9 C107.43 374.92 116 374.88 120 374.9 C124 374.92 123.62 374.97 126 375 C128.38 375.03 132.33 374.9 134.3 375.1 C136.27 375.3 136.75 375.43 137.8 376.2 C138.85 376.97 139.68 378.2 140.6 379.7 C141.52 381.2 142.38 383.12 143.3 385.2 C144.22 387.28 145.17 389.88 146.1 392.2 C147.03 394.52 147.98 396.8 148.9 399.1 C149.82 401.4 150.68 403.8 151.6 406 C152.52 408.2 153.47 410.33 154.4 412.3 C155.33 414.27 156.27 416.07 157.2 417.8 C158.13 419.53 159.08 421.23 160 422.7 C160.92 424.17 161.97 425.57 162.7 426.6 C163.43 427.63 164.12 428.52 164.4 428.9" fill="none" stroke="#e7298a" stroke-width="1.35" stroke-linejoin="round" stroke-linecap="round"/>
<g class="tk" font-size="9.0" text-anchor="end" fill="#111">
<text x="23.6" y="440.35">0</text>
<text x="23.6" y="424.62">2</text>
<text x="23.6" y="408.88">4</text>
<text x="23.6" y="393.15">6</text>
<text x="23.6" y="377.42">8</text>
<text x="23.6" y="361.68">10</text>
<text x="23.6" y="345.95">12</text>
</g>
<text transform="translate(10.1 390.2) rotate(-90)" font-size="11.5" text-anchor="middle" fill="#111" textLength="68.5" lengthAdjust="spacingAndGlyphs">Hosp.&#160;&#160;per&#160;100K</text>
<text x="95.5" y="338.5" font-size="9.3" text-anchor="middle" fill="#111" textLength="53.6" lengthAdjust="spacingAndGlyphs">South Central</text>
<rect x="26.5" y="443.3" width="1.55" height="16.6" fill="#fdb863"/>
<rect x="28" y="443.3" width="1.15" height="16.6" fill="#f7f7f7"/>
<rect x="29.1" y="443.3" width="29.35" height="16.6" fill="#b2abd2"/>
<rect x="58.4" y="443.3" width="17.65" height="16.6" fill="#5e3c99"/>
<rect x="76" y="443.3" width="10.95" height="16.6" fill="#b2abd2"/>
<rect x="86.9" y="443.3" width="22.35" height="16.6" fill="#f7f7f7"/>
<rect x="109.2" y="443.3" width="13.85" height="16.6" fill="#fdb863"/>
<rect x="123" y="443.3" width="41.55" height="16.6" fill="#e66101"/>
<g stroke="#262626" stroke-width="0.6">
<line x1="49.56" y1="459.9" x2="49.56" y2="458.3"/>
<line x1="49.56" y1="443.3" x2="49.56" y2="444.9"/>
<line x1="72.63" y1="459.9" x2="72.63" y2="458.3"/>
<line x1="72.63" y1="443.3" x2="72.63" y2="444.9"/>
<line x1="96.07" y1="459.9" x2="96.07" y2="458.3"/>
<line x1="96.07" y1="443.3" x2="96.07" y2="444.9"/>
<line x1="119.13" y1="459.9" x2="119.13" y2="458.3"/>
<line x1="119.13" y1="443.3" x2="119.13" y2="444.9"/>
<line x1="142.19" y1="459.9" x2="142.19" y2="458.3"/>
<line x1="142.19" y1="443.3" x2="142.19" y2="444.9"/>
</g>
<rect x="26.5" y="443.3" width="138" height="16.6" fill="none" stroke="#262626" stroke-width="0.65"/>
<text transform="translate(20.4 451.6) rotate(-90)" font-size="11" font-style="italic" text-anchor="middle" fill="#111" style="stroke-width:0">u</text>
<text x="82.1" y="501.8" font-size="11" text-anchor="middle" fill="#111">(i)</text>
<g class="tk" font-size="9.0" text-anchor="end" fill="#111">
<text transform="translate(27.5 464.3) rotate(-30)" dy="0.7em">03/01/21</text>
<text transform="translate(50.56 464.3) rotate(-30)" dy="0.7em">05/01/21</text>
<text transform="translate(73.63 464.3) rotate(-30)" dy="0.7em">07/01/21</text>
<text transform="translate(97.07 464.3) rotate(-30)" dy="0.7em">09/01/21</text>
<text transform="translate(120.13 464.3) rotate(-30)" dy="0.7em">11/01/21</text>
<text transform="translate(143.19 464.3) rotate(-30)" dy="0.7em">01/01/22</text>
<text transform="translate(165.5 464.3) rotate(-30)" dy="0.7em">03/01/22</text>
</g>
<g stroke="#e6e6e6" stroke-width="0.6" fill="none">
<line x1="222.65" y1="344.6" x2="222.65" y2="437.9"/>
<line x1="245.49" y1="344.6" x2="245.49" y2="437.9"/>
<line x1="268.71" y1="344.6" x2="268.71" y2="437.9"/>
<line x1="291.56" y1="344.6" x2="291.56" y2="437.9"/>
<line x1="314.4" y1="344.6" x2="314.4" y2="437.9"/>
<line x1="199.8" y1="426.24" x2="336.5" y2="426.24"/>
<line x1="199.8" y1="414.57" x2="336.5" y2="414.57"/>
<line x1="199.8" y1="402.91" x2="336.5" y2="402.91"/>
<line x1="199.8" y1="391.25" x2="336.5" y2="391.25"/>
<line x1="199.8" y1="379.59" x2="336.5" y2="379.59"/>
<line x1="199.8" y1="367.93" x2="336.5" y2="367.93"/>
<line x1="199.8" y1="356.26" x2="336.5" y2="356.26"/>
</g>
<line x1="199.8" y1="433.23" x2="336.5" y2="433.23" stroke="#d3b0d9" stroke-width="1.0"/>
<g stroke="#262626" stroke-width="0.6">
<line x1="222.65" y1="437.9" x2="222.65" y2="436.3"/>
<line x1="222.65" y1="344.6" x2="222.65" y2="346.2"/>
<line x1="245.49" y1="437.9" x2="245.49" y2="436.3"/>
<line x1="245.49" y1="344.6" x2="245.49" y2="346.2"/>
<line x1="268.71" y1="437.9" x2="268.71" y2="436.3"/>
<line x1="268.71" y1="344.6" x2="268.71" y2="346.2"/>
<line x1="291.56" y1="437.9" x2="291.56" y2="436.3"/>
<line x1="291.56" y1="344.6" x2="291.56" y2="346.2"/>
<line x1="314.4" y1="437.9" x2="314.4" y2="436.3"/>
<line x1="314.4" y1="344.6" x2="314.4" y2="346.2"/>
<line x1="199.8" y1="426.24" x2="201.4" y2="426.24"/>
<line x1="336.5" y1="426.24" x2="334.9" y2="426.24"/>
<line x1="199.8" y1="414.57" x2="201.4" y2="414.57"/>
<line x1="336.5" y1="414.57" x2="334.9" y2="414.57"/>
<line x1="199.8" y1="402.91" x2="201.4" y2="402.91"/>
<line x1="336.5" y1="402.91" x2="334.9" y2="402.91"/>
<line x1="199.8" y1="391.25" x2="201.4" y2="391.25"/>
<line x1="336.5" y1="391.25" x2="334.9" y2="391.25"/>
<line x1="199.8" y1="379.59" x2="201.4" y2="379.59"/>
<line x1="336.5" y1="379.59" x2="334.9" y2="379.59"/>
<line x1="199.8" y1="367.93" x2="201.4" y2="367.93"/>
<line x1="336.5" y1="367.93" x2="334.9" y2="367.93"/>
<line x1="199.8" y1="356.26" x2="201.4" y2="356.26"/>
<line x1="336.5" y1="356.26" x2="334.9" y2="356.26"/>
</g>
<rect x="199.8" y="344.6" width="136.7" height="93.3" fill="none" stroke="#262626" stroke-width="0.65"/>
<path d="M200.1 436 C200.73 435.78 202.27 435.18 203.9 434.7 C205.53 434.22 207.92 433.4 209.9 433.1 C211.88 432.8 213.7 432.95 215.8 432.9 C217.9 432.85 221.02 432.92 222.5 432.8 C223.98 432.68 224 432.65 224.7 432.2 C225.4 431.75 225.87 431.6 226.7 430.1 C227.53 428.6 228.88 425.63 229.7 423.2 C230.52 420.77 230.95 418.48 231.6 415.5 C232.25 412.52 232.93 408.97 233.6 405.3 C234.27 401.63 234.93 397.45 235.6 393.5 C236.27 389.55 236.97 385.43 237.6 381.6 C238.23 377.77 238.82 373.77 239.4 370.5 C239.98 367.23 240.6 364.15 241.1 362 C241.6 359.85 241.98 358.63 242.4 357.6 C242.82 356.57 243.18 355.97 243.6 355.8 C244.02 355.63 244.42 355.98 244.9 356.6 C245.38 357.22 245.98 358.13 246.5 359.5 C247.02 360.87 247.5 362.77 248 364.8 C248.5 366.83 248.92 368.75 249.5 371.7 C250.08 374.65 250.85 378.87 251.5 382.5 C252.15 386.13 252.75 390.08 253.4 393.5 C254.05 396.92 254.73 400.03 255.4 403 C256.07 405.97 256.67 408.55 257.4 411.3 C258.13 414.05 258.98 417.03 259.8 419.5 C260.62 421.97 261.38 424.13 262.3 426.1 C263.22 428.07 264.3 429.9 265.3 431.3 C266.3 432.7 267.27 433.7 268.3 434.5 C269.33 435.3 270.35 435.7 271.5 436.1 C272.65 436.5 273.78 436.7 275.2 436.9 C276.62 437.1 278.18 437.22 280 437.3 C281.82 437.38 285.08 437.38 286.1 437.4" fill="none" stroke="#e7298a" stroke-width="1.35" stroke-linejoin="round" stroke-linecap="round"/>
<g class="tk" font-size="9.0" text-anchor="end" fill="#111">
<text x="196.9" y="440.85">0</text>
<text x="196.9" y="429.19">20</text>
<text x="196.9" y="417.52">40</text>
<text x="196.9" y="405.86">60</text>
<text x="196.9" y="394.2">80</text>
<text x="196.9" y="382.54">100</text>
<text x="196.9" y="370.88">120</text>
<text x="196.9" y="359.21">140</text>
<text x="196.9" y="347.55">160</text>
</g>
<text transform="translate(179.2 391.25) rotate(-90)" font-size="11.5" text-anchor="middle" fill="#111" textLength="68.5" lengthAdjust="spacingAndGlyphs">Hosp.&#160;&#160;per&#160;100K</text>
<text x="267.7" y="340.6" font-size="9.3" text-anchor="middle" fill="#111" textLength="36.2" lengthAdjust="spacingAndGlyphs">Southeast</text>
<rect x="199.8" y="443.4" width="2.45" height="16.7" fill="#fdb863"/>
<rect x="202.2" y="443.4" width="1.85" height="16.7" fill="#f7f7f7"/>
<rect x="204" y="443.4" width="18.35" height="16.7" fill="#b2abd2"/>
<rect x="222.3" y="443.4" width="0.75" height="16.7" fill="#f7f7f7"/>
<rect x="223" y="443.4" width="113.55" height="16.7" fill="#fdb863"/>
<g stroke="#262626" stroke-width="0.6">
<line x1="222.65" y1="460.1" x2="222.65" y2="458.5"/>
<line x1="222.65" y1="443.4" x2="222.65" y2="445"/>
<line x1="245.49" y1="460.1" x2="245.49" y2="458.5"/>
<line x1="245.49" y1="443.4" x2="245.49" y2="445"/>
<line x1="268.71" y1="460.1" x2="268.71" y2="458.5"/>
<line x1="268.71" y1="443.4" x2="268.71" y2="445"/>
<line x1="291.56" y1="460.1" x2="291.56" y2="458.5"/>
<line x1="291.56" y1="443.4" x2="291.56" y2="445"/>
<line x1="314.4" y1="460.1" x2="314.4" y2="458.5"/>
<line x1="314.4" y1="443.4" x2="314.4" y2="445"/>
</g>
<rect x="199.8" y="443.4" width="136.7" height="16.7" fill="none" stroke="#262626" stroke-width="0.65"/>
<text transform="translate(193.7 451.75) rotate(-90)" font-size="11" font-style="italic" text-anchor="middle" fill="#111" style="stroke-width:0">u</text>
<text x="253.9" y="501.8" font-size="11" text-anchor="middle" fill="#111">(j)</text>
<g class="tk" font-size="9.0" text-anchor="end" fill="#111">
<text transform="translate(200.8 464.5) rotate(-30)" dy="0.7em">03/01/21</text>
<text transform="translate(223.65 464.5) rotate(-30)" dy="0.7em">05/01/21</text>
<text transform="translate(246.49 464.5) rotate(-30)" dy="0.7em">07/01/21</text>
<text transform="translate(269.71 464.5) rotate(-30)" dy="0.7em">09/01/21</text>
<text transform="translate(292.56 464.5) rotate(-30)" dy="0.7em">11/01/21</text>
<text transform="translate(315.4 464.5) rotate(-30)" dy="0.7em">01/01/22</text>
<text transform="translate(337.5 464.5) rotate(-30)" dy="0.7em">03/01/22</text>
</g>
<g stroke="#e6e6e6" stroke-width="0.6" fill="none">
<line x1="394.26" y1="344.65" x2="394.26" y2="437.9"/>
<line x1="417.02" y1="344.65" x2="417.02" y2="437.9"/>
<line x1="440.16" y1="344.65" x2="440.16" y2="437.9"/>
<line x1="462.92" y1="344.65" x2="462.92" y2="437.9"/>
<line x1="485.68" y1="344.65" x2="485.68" y2="437.9"/>
<line x1="371.5" y1="426.24" x2="507.7" y2="426.24"/>
<line x1="371.5" y1="414.59" x2="507.7" y2="414.59"/>
<line x1="371.5" y1="402.93" x2="507.7" y2="402.93"/>
<line x1="371.5" y1="391.27" x2="507.7" y2="391.27"/>
<line x1="371.5" y1="379.62" x2="507.7" y2="379.62"/>
<line x1="371.5" y1="367.96" x2="507.7" y2="367.96"/>
<line x1="371.5" y1="356.31" x2="507.7" y2="356.31"/>
</g>
<line x1="371.5" y1="433.24" x2="507.7" y2="433.24" stroke="#d3b0d9" stroke-width="1.0"/>
<g stroke="#262626" stroke-width="0.6">
<line x1="394.26" y1="437.9" x2="394.26" y2="436.3"/>
<line x1="394.26" y1="344.65" x2="394.26" y2="346.25"/>
<line x1="417.02" y1="437.9" x2="417.02" y2="436.3"/>
<line x1="417.02" y1="344.65" x2="417.02" y2="346.25"/>
<line x1="440.16" y1="437.9" x2="440.16" y2="436.3"/>
<line x1="440.16" y1="344.65" x2="440.16" y2="346.25"/>
<line x1="462.92" y1="437.9" x2="462.92" y2="436.3"/>
<line x1="462.92" y1="344.65" x2="462.92" y2="346.25"/>
<line x1="485.68" y1="437.9" x2="485.68" y2="436.3"/>
<line x1="485.68" y1="344.65" x2="485.68" y2="346.25"/>
<line x1="371.5" y1="426.24" x2="373.1" y2="426.24"/>
<line x1="507.7" y1="426.24" x2="506.1" y2="426.24"/>
<line x1="371.5" y1="414.59" x2="373.1" y2="414.59"/>
<line x1="507.7" y1="414.59" x2="506.1" y2="414.59"/>
<line x1="371.5" y1="402.93" x2="373.1" y2="402.93"/>
<line x1="507.7" y1="402.93" x2="506.1" y2="402.93"/>
<line x1="371.5" y1="391.27" x2="373.1" y2="391.27"/>
<line x1="507.7" y1="391.27" x2="506.1" y2="391.27"/>
<line x1="371.5" y1="379.62" x2="373.1" y2="379.62"/>
<line x1="507.7" y1="379.62" x2="506.1" y2="379.62"/>
<line x1="371.5" y1="367.96" x2="373.1" y2="367.96"/>
<line x1="507.7" y1="367.96" x2="506.1" y2="367.96"/>
<line x1="371.5" y1="356.31" x2="373.1" y2="356.31"/>
<line x1="507.7" y1="356.31" x2="506.1" y2="356.31"/>
</g>
<rect x="371.5" y="344.65" width="136.2" height="93.25" fill="none" stroke="#262626" stroke-width="0.65"/>
<path d="M371.5 435.4 C372.23 435.18 374.17 434.48 375.9 434.1 C377.63 433.72 379.75 433.3 381.9 433.1 C384.05 432.9 386.5 432.97 388.8 432.9 C391.1 432.83 394.28 432.88 395.7 432.7 C397.12 432.52 396.8 432.23 397.3 431.8 C397.8 431.37 397.97 431.53 398.7 430.1 C399.43 428.67 400.88 425.63 401.7 423.2 C402.52 420.77 402.95 418.48 403.6 415.5 C404.25 412.52 404.93 409.13 405.6 405.3 C406.27 401.47 406.93 396.78 407.6 392.5 C408.27 388.22 408.98 383.6 409.6 379.6 C410.22 375.6 410.75 371.77 411.3 368.5 C411.85 365.23 412.43 362.2 412.9 360 C413.37 357.8 413.72 356.33 414.1 355.3 C414.48 354.27 414.8 353.88 415.2 353.8 C415.6 353.72 416.02 354.13 416.5 354.8 C416.98 355.47 417.55 356.3 418.1 357.8 C418.65 359.3 419.23 361.48 419.8 363.8 C420.37 366.12 420.9 368.58 421.5 371.7 C422.1 374.82 422.75 378.87 423.4 382.5 C424.05 386.13 424.73 390.08 425.4 393.5 C426.07 396.92 426.73 400.03 427.4 403 C428.07 405.97 428.67 408.47 429.4 411.3 C430.13 414.13 430.98 417.45 431.8 420 C432.62 422.55 433.38 424.65 434.3 426.6 C435.22 428.55 436.3 430.37 437.3 431.7 C438.3 433.03 439.18 433.83 440.3 434.6 C441.42 435.37 442.68 435.9 444 436.3 C445.32 436.7 446.7 436.83 448.2 437 C449.7 437.17 451.35 437.23 453 437.3 C454.65 437.37 457.25 437.38 458.1 437.4" fill="none" stroke="#e7298a" stroke-width="1.35" stroke-linejoin="round" stroke-linecap="round"/>
<g class="tk" font-size="9.0" text-anchor="end" fill="#111">
<text x="368.6" y="440.85">0</text>
<text x="368.6" y="429.19">20</text>
<text x="368.6" y="417.54">40</text>
<text x="368.6" y="405.88">60</text>
<text x="368.6" y="394.22">80</text>
<text x="368.6" y="382.57">100</text>
<text x="368.6" y="370.91">120</text>
<text x="368.6" y="359.26">140</text>
<text x="368.6" y="347.6">160</text>
</g>
<text transform="translate(350.9 391.27) rotate(-90)" font-size="11.5" text-anchor="middle" fill="#111" textLength="68.5" lengthAdjust="spacingAndGlyphs">Hosp.&#160;&#160;per&#160;100K</text>
<text x="439.6" y="340.6" font-size="9.3" text-anchor="middle" fill="#111" textLength="38" lengthAdjust="spacingAndGlyphs">Southwest</text>
<rect x="371.5" y="443.4" width="1.45" height="16.7" fill="#fdb863"/>
<rect x="372.9" y="443.4" width="1.85" height="16.7" fill="#f7f7f7"/>
<rect x="374.7" y="443.4" width="19.45" height="16.7" fill="#b2abd2"/>
<rect x="394.1" y="443.4" width="0.75" height="16.7" fill="#f7f7f7"/>
<rect x="394.8" y="443.4" width="112.95" height="16.7" fill="#fdb863"/>
<g stroke="#262626" stroke-width="0.6">
<line x1="394.26" y1="460.1" x2="394.26" y2="458.5"/>
<line x1="394.26" y1="443.4" x2="394.26" y2="445"/>
<line x1="417.02" y1="460.1" x2="417.02" y2="458.5"/>
<line x1="417.02" y1="443.4" x2="417.02" y2="445"/>
<line x1="440.16" y1="460.1" x2="440.16" y2="458.5"/>
<line x1="440.16" y1="443.4" x2="440.16" y2="445"/>
<line x1="462.92" y1="460.1" x2="462.92" y2="458.5"/>
<line x1="462.92" y1="443.4" x2="462.92" y2="445"/>
<line x1="485.68" y1="460.1" x2="485.68" y2="458.5"/>
<line x1="485.68" y1="443.4" x2="485.68" y2="445"/>
</g>
<rect x="371.5" y="443.4" width="136.2" height="16.7" fill="none" stroke="#262626" stroke-width="0.65"/>
<text transform="translate(365.4 451.75) rotate(-90)" font-size="11" font-style="italic" text-anchor="middle" fill="#111" style="stroke-width:0">u</text>
<text x="425.45" y="501.8" font-size="11" text-anchor="middle" fill="#111">(k)</text>
<g class="tk" font-size="9.0" text-anchor="end" fill="#111">
<text transform="translate(372.5 464.5) rotate(-30)" dy="0.7em">03/01/21</text>
<text transform="translate(395.26 464.5) rotate(-30)" dy="0.7em">05/01/21</text>
<text transform="translate(418.02 464.5) rotate(-30)" dy="0.7em">07/01/21</text>
<text transform="translate(441.16 464.5) rotate(-30)" dy="0.7em">09/01/21</text>
<text transform="translate(463.92 464.5) rotate(-30)" dy="0.7em">11/01/21</text>
<text transform="translate(486.68 464.5) rotate(-30)" dy="0.7em">01/01/22</text>
<text transform="translate(508.7 464.5) rotate(-30)" dy="0.7em">03/01/22</text>
</g>
<g stroke="#e6e6e6" stroke-width="0.6" fill="none">
<line x1="565.9" y1="344.65" x2="565.9" y2="437.9"/>
<line x1="588.69" y1="344.65" x2="588.69" y2="437.9"/>
<line x1="611.86" y1="344.65" x2="611.86" y2="437.9"/>
<line x1="634.66" y1="344.65" x2="634.66" y2="437.9"/>
<line x1="657.45" y1="344.65" x2="657.45" y2="437.9"/>
<line x1="543.1" y1="426.24" x2="679.5" y2="426.24"/>
<line x1="543.1" y1="414.59" x2="679.5" y2="414.59"/>
<line x1="543.1" y1="402.93" x2="679.5" y2="402.93"/>
<line x1="543.1" y1="391.27" x2="679.5" y2="391.27"/>
<line x1="543.1" y1="379.62" x2="679.5" y2="379.62"/>
<line x1="543.1" y1="367.96" x2="679.5" y2="367.96"/>
<line x1="543.1" y1="356.31" x2="679.5" y2="356.31"/>
</g>
<line x1="543.1" y1="433.24" x2="679.5" y2="433.24" stroke="#d3b0d9" stroke-width="1.0"/>
<g stroke="#262626" stroke-width="0.6">
<line x1="565.9" y1="437.9" x2="565.9" y2="436.3"/>
<line x1="565.9" y1="344.65" x2="565.9" y2="346.25"/>
<line x1="588.69" y1="437.9" x2="588.69" y2="436.3"/>
<line x1="588.69" y1="344.65" x2="588.69" y2="346.25"/>
<line x1="611.86" y1="437.9" x2="611.86" y2="436.3"/>
<line x1="611.86" y1="344.65" x2="611.86" y2="346.25"/>
<line x1="634.66" y1="437.9" x2="634.66" y2="436.3"/>
<line x1="634.66" y1="344.65" x2="634.66" y2="346.25"/>
<line x1="657.45" y1="437.9" x2="657.45" y2="436.3"/>
<line x1="657.45" y1="344.65" x2="657.45" y2="346.25"/>
<line x1="543.1" y1="426.24" x2="544.7" y2="426.24"/>
<line x1="679.5" y1="426.24" x2="677.9" y2="426.24"/>
<line x1="543.1" y1="414.59" x2="544.7" y2="414.59"/>
<line x1="679.5" y1="414.59" x2="677.9" y2="414.59"/>
<line x1="543.1" y1="402.93" x2="544.7" y2="402.93"/>
<line x1="679.5" y1="402.93" x2="677.9" y2="402.93"/>
<line x1="543.1" y1="391.27" x2="544.7" y2="391.27"/>
<line x1="679.5" y1="391.27" x2="677.9" y2="391.27"/>
<line x1="543.1" y1="379.62" x2="544.7" y2="379.62"/>
<line x1="679.5" y1="379.62" x2="677.9" y2="379.62"/>
<line x1="543.1" y1="367.96" x2="544.7" y2="367.96"/>
<line x1="679.5" y1="367.96" x2="677.9" y2="367.96"/>
<line x1="543.1" y1="356.31" x2="544.7" y2="356.31"/>
<line x1="679.5" y1="356.31" x2="677.9" y2="356.31"/>
</g>
<rect x="543.1" y="344.65" width="136.4" height="93.25" fill="none" stroke="#262626" stroke-width="0.65"/>
<path d="M543.1 435.4 C543.9 435.25 546.1 434.88 547.9 434.5 C549.7 434.12 551.92 433.37 553.9 433.1 C555.88 432.83 557.75 432.97 559.8 432.9 C561.85 432.83 564.8 432.88 566.2 432.7 C567.6 432.52 567.62 432.23 568.2 431.8 C568.78 431.37 568.95 431.53 569.7 430.1 C570.45 428.67 571.88 425.63 572.7 423.2 C573.52 420.77 573.95 418.48 574.6 415.5 C575.25 412.52 575.93 408.97 576.6 405.3 C577.27 401.63 577.93 397.45 578.6 393.5 C579.27 389.55 579.93 385.27 580.6 381.6 C581.27 377.93 581.97 374.47 582.6 371.5 C583.23 368.53 583.87 365.65 584.4 363.8 C584.93 361.95 585.35 361.13 585.8 360.4 C586.25 359.67 586.65 359.4 587.1 359.4 C587.55 359.4 588.03 359.77 588.5 360.4 C588.97 361.03 589.4 361.8 589.9 363.2 C590.4 364.6 590.97 366.73 591.5 368.8 C592.03 370.87 592.52 372.73 593.1 375.6 C593.68 378.47 594.35 382.37 595 386 C595.65 389.63 596.33 393.98 597 397.4 C597.67 400.82 598.33 403.68 599 406.5 C599.67 409.32 600.23 411.75 601 414.3 C601.77 416.85 602.72 419.55 603.6 421.8 C604.48 424.05 605.35 426.05 606.3 427.8 C607.25 429.55 608.3 431.12 609.3 432.3 C610.3 433.48 611.18 434.22 612.3 434.9 C613.42 435.58 614.68 436.03 616 436.4 C617.32 436.77 618.7 436.95 620.2 437.1 C621.7 437.25 623.35 437.25 625 437.3 C626.65 437.35 629.25 437.38 630.1 437.4" fill="none" stroke="#e7298a" stroke-width="1.35" stroke-linejoin="round" stroke-linecap="round"/>
<g class="tk" font-size="9.0" text-anchor="end" fill="#111">
<text x="540.2" y="440.85">0</text>
<text x="540.2" y="429.19">20</text>
<text x="540.2" y="417.54">40</text>
<text x="540.2" y="405.88">60</text>
<text x="540.2" y="394.22">80</text>
<text x="540.2" y="382.57">100</text>
<text x="540.2" y="370.91">120</text>
<text x="540.2" y="359.26">140</text>
<text x="540.2" y="347.6">160</text>
</g>
<text transform="translate(522.5 391.27) rotate(-90)" font-size="11.5" text-anchor="middle" fill="#111" textLength="68.5" lengthAdjust="spacingAndGlyphs">Hosp.&#160;&#160;per&#160;100K</text>
<text x="611.2" y="340.6" font-size="9.3" text-anchor="middle" fill="#111" textLength="96.8" lengthAdjust="spacingAndGlyphs">West Central Partnership</text>
<rect x="543.1" y="443.4" width="1.95" height="16.7" fill="#fdb863"/>
<rect x="545" y="443.4" width="1.25" height="16.7" fill="#f7f7f7"/>
<rect x="546.2" y="443.4" width="19.95" height="16.7" fill="#b2abd2"/>
<rect x="566.1" y="443.4" width="0.85" height="16.7" fill="#f7f7f7"/>
<rect x="566.9" y="443.4" width="112.65" height="16.7" fill="#fdb863"/>
<g stroke="#262626" stroke-width="0.6">
<line x1="565.9" y1="460.1" x2="565.9" y2="458.5"/>
<line x1="565.9" y1="443.4" x2="565.9" y2="445"/>
<line x1="588.69" y1="460.1" x2="588.69" y2="458.5"/>
<line x1="588.69" y1="443.4" x2="588.69" y2="445"/>
<line x1="611.86" y1="460.1" x2="611.86" y2="458.5"/>
<line x1="611.86" y1="443.4" x2="611.86" y2="445"/>
<line x1="634.66" y1="460.1" x2="634.66" y2="458.5"/>
<line x1="634.66" y1="443.4" x2="634.66" y2="445"/>
<line x1="657.45" y1="460.1" x2="657.45" y2="458.5"/>
<line x1="657.45" y1="443.4" x2="657.45" y2="445"/>
</g>
<rect x="543.1" y="443.4" width="136.4" height="16.7" fill="none" stroke="#262626" stroke-width="0.65"/>
<text transform="translate(537 451.75) rotate(-90)" font-size="11" font-style="italic" text-anchor="middle" fill="#111" style="stroke-width:0">u</text>
<text x="597.25" y="501.8" font-size="11" text-anchor="middle" fill="#111">(l)</text>
<g class="tk" font-size="9.0" text-anchor="end" fill="#111">
<text transform="translate(544.1 464.5) rotate(-30)" dy="0.7em">03/01/21</text>
<text transform="translate(566.9 464.5) rotate(-30)" dy="0.7em">05/01/21</text>
<text transform="translate(589.69 464.5) rotate(-30)" dy="0.7em">07/01/21</text>
<text transform="translate(612.86 464.5) rotate(-30)" dy="0.7em">09/01/21</text>
<text transform="translate(635.66 464.5) rotate(-30)" dy="0.7em">11/01/21</text>
<text transform="translate(658.45 464.5) rotate(-30)" dy="0.7em">01/01/22</text>
<text transform="translate(680.5 464.5) rotate(-30)" dy="0.7em">03/01/22</text>
</g>
<rect x="583.4" y="8.3" width="10" height="24.71" fill="#e66101"/>
<rect x="583.4" y="32.96" width="10" height="24.71" fill="#fdb863"/>
<rect x="583.4" y="57.62" width="10" height="24.71" fill="#f7f7f7"/>
<rect x="583.4" y="82.28" width="10" height="24.71" fill="#b2abd2"/>
<rect x="583.4" y="106.94" width="10" height="24.71" fill="#5e3c99"/>
<rect x="583.4" y="8.3" width="10" height="123.3" fill="none" stroke="#262626" stroke-width="0.65"/>
<g font-size="8.3" fill="#111">
<line x1="591.9" y1="8.3" x2="593.4" y2="8.3" stroke="#262626" stroke-width="0.6"/>
<text x="595.9" y="11.95" textLength="17" lengthAdjust="spacingAndGlyphs">100%</text>
<line x1="591.9" y1="32.96" x2="593.4" y2="32.96" stroke="#262626" stroke-width="0.6"/>
<text x="595.9" y="36.61" textLength="13.6" lengthAdjust="spacingAndGlyphs">80%</text>
<line x1="591.9" y1="57.62" x2="593.4" y2="57.62" stroke="#262626" stroke-width="0.6"/>
<text x="595.9" y="61.27" textLength="13.6" lengthAdjust="spacingAndGlyphs">60%</text>
<line x1="591.9" y1="82.28" x2="593.4" y2="82.28" stroke="#262626" stroke-width="0.6"/>
<text x="595.9" y="85.93" textLength="13.6" lengthAdjust="spacingAndGlyphs">40%</text>
<line x1="591.9" y1="106.94" x2="593.4" y2="106.94" stroke="#262626" stroke-width="0.6"/>
<text x="595.9" y="110.59" textLength="13.6" lengthAdjust="spacingAndGlyphs">20%</text>
</g>
<text x="515.4" y="16.9" font-size="8.8" fill="#111" textLength="62.6" lengthAdjust="spacingAndGlyphs">Contact Levels <tspan font-style="italic">u</tspan></text>
<text x="562.1" y="148.9" font-size="11" text-anchor="middle" fill="#111">(d)</text>
</svg></body></html>
